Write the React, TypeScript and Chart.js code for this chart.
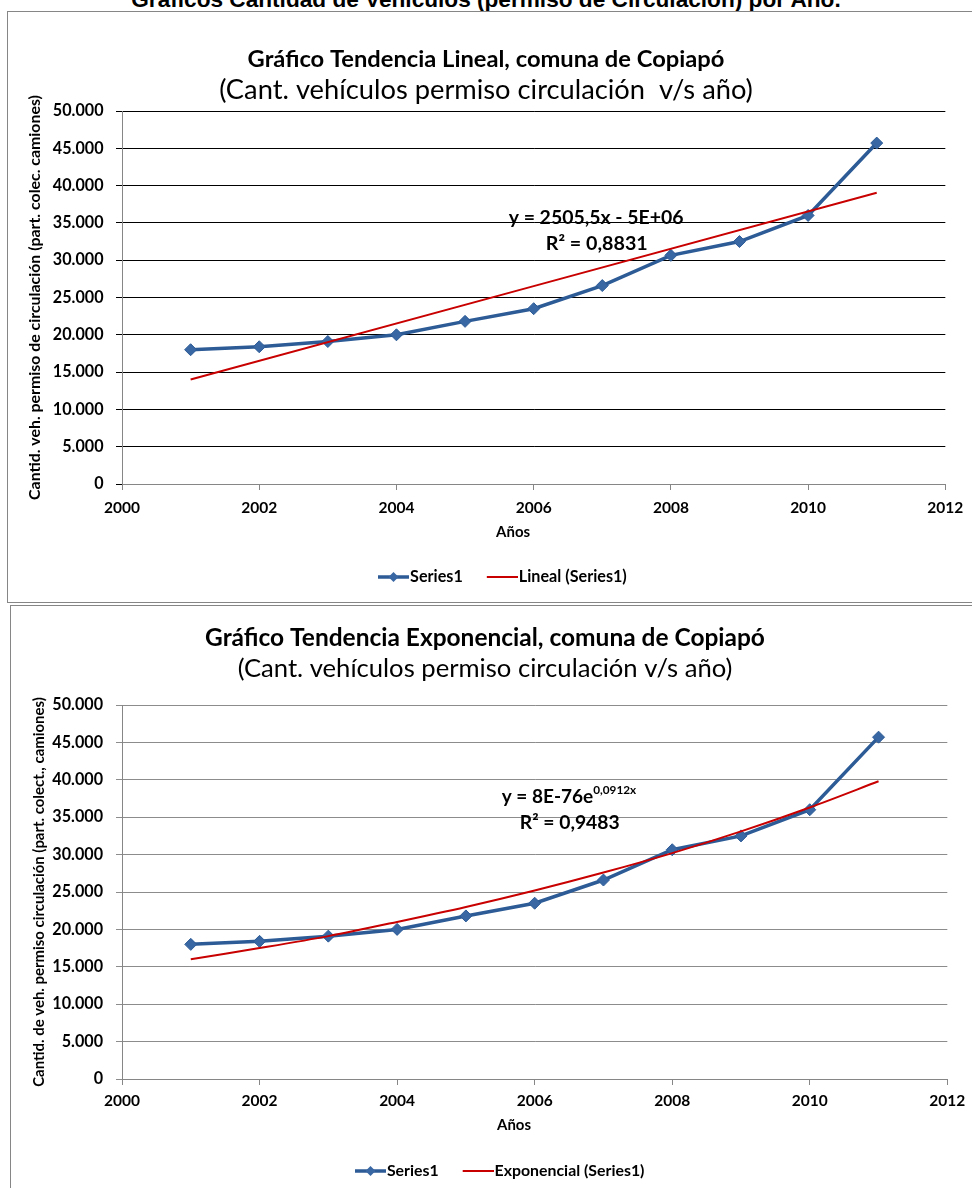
import React, { useEffect, useRef } from 'react';
import { Chart, registerables } from 'chart.js';

Chart.register(...registerables);

// ---------------- data ----------------
const pageTitle = 'Gráficos Cantidad de Vehículos (permiso de Circulación) por Año.';

const years = [2001, 2002, 2003, 2004, 2005, 2006, 2007, 2008, 2009, 2010, 2011];
const series1 = [18000, 18400, 19100, 20000, 21800, 23500, 26600, 30650, 32500, 36000, 45700];

const linearTrendYears = [2001, 2011];
const linearTrendValues = [14000, 39050];

const expTrendYears = [2001, 2002, 2003, 2004, 2005, 2006, 2007, 2008, 2009, 2010, 2011];
const expTrendValues = [16000, 17500, 19100, 21000, 23000, 25200, 27600, 30200, 33100, 36300, 39800];

const xMin = 2000;
const xMax = 2012;
const xStep = 2;
const yMin = 0;
const yMax = 50000;
const yStep = 5000;

const xAxisTitle = 'Años';

const chart1Title = 'Gráfico Tendencia Lineal, comuna de Copiapó';
const chart1Subtitle = '(Cant. vehículos permiso circulación  v/s año)';
const chart1YTitle = 'Cantid. veh. permiso de circulación (part. colec. camiones)';
const chart1Legend = ['Series1', 'Lineal (Series1)'];
const chart1Equation = 'y = 2505,5x - 5E+06';
const chart1R2 = 'R² = 0,8831';

const chart2Title = 'Gráfico Tendencia Exponencial, comuna de Copiapó';
const chart2Subtitle = '(Cant. vehículos permiso circulación v/s año)';
const chart2YTitle = 'Cantid. de veh. permiso circulación (part. colect., camiones)';
const chart2Legend = ['Series1', 'Exponencial (Series1)'];
const chart2EquationBase = 'y = 8E-76e';
const chart2EquationExp = '0,0912x';
const chart2R2 = 'R² = 0,9483';

// ---------------- styles ----------------
const FAMILY = 'Lato';
const BLUE = '#2C5B96';
const BLUE_MARK = '#3867A3';
const RED = '#C80000';
const AXIS = '#868686';
const GRID2 = '#8C8C8C';

let measureCtx: CanvasRenderingContext2D | null = null;
function fitSize(text: string, weight: string, target: number, family = FAMILY) {
  if (!measureCtx) measureCtx = document.createElement('canvas').getContext('2d');
  const ctx = measureCtx as CanvasRenderingContext2D;
  ctx.font = `${weight} 100px ${family}`;
  const w = ctx.measureText(text).width;
  return (100 * target) / w;
}

function fmtThousands(v: number) {
  return v === 0 ? '0' : String(v).replace(/\B(?=(\d{3})+(?!\d))/g, '.');
}

function makeLegendImage(iw: number, kind: 'series' | 'trend') {
  const c = document.createElement('canvas');
  c.width = iw;
  c.height = 14;
  const g = c.getContext('2d') as CanvasRenderingContext2D;
  const x0 = iw - 31;
  const y = 7;
  if (kind === 'series') {
    g.strokeStyle = BLUE;
    g.lineWidth = 3.5;
    g.beginPath();
    g.moveTo(x0, y);
    g.lineTo(iw, y);
    g.stroke();
    const cx = x0 + 15.5;
    g.fillStyle = BLUE_MARK;
    g.beginPath();
    g.moveTo(cx, y - 5);
    g.lineTo(cx + 5, y);
    g.lineTo(cx, y + 5);
    g.lineTo(cx - 5, y);
    g.closePath();
    g.fill();
  } else {
    g.strokeStyle = RED;
    g.lineWidth = 2;
    g.beginPath();
    g.moveTo(x0, y);
    g.lineTo(iw, y);
    g.stroke();
  }
  return c;
}

type LabelRun = {
  text: string;
  w: number;
  x: number;
  y: number;
  align: 'center' | 'left';
  sup?: { text: string; w: number; dy: number };
};

type Spec = {
  w: number;
  h: number;
  padL: number;
  padR: number;
  title: string;
  titleW: number;
  titleCY: number;
  subtitle: string;
  subtitleW: number;
  subtitleCY: number;
  top: number;
  bottom: number;
  yWidth: number;
  yTitle: string;
  yTitleW: number;
  yTitleCX: number;
  yTickW: number;
  yTickPad: number;
  gridColor: string;
  yTickMarkColor: string;
  xTickW: number;
  xTickCY: number;
  xTitleAt: number;
  xTitleCY: number;
  xTitleW: number;
  legendTexts: string[];
  legendFitW: number;
  legendCY: number;
  legendVisLeft: number;
  trendYears: number[];
  trendValues: number[];
  labels: LabelRun[];
};

function buildConfig(s: Spec): any {
  const titleSize = fitSize(s.title, 'bold', s.titleW);
  const titleLH = titleSize * 1.2;
  const subSize = fitSize(s.subtitle, 'normal', s.subtitleW);
  const subLH = subSize * 1.2;
  const titleBottom = s.titleCY + titleLH / 2;

  const yTickSize = fitSize('50.000', 'bold', s.yTickW);
  const xTickSize = fitSize('2000', 'bold', s.xTickW);
  const xTickLH = xTickSize * 1.2;
  const yTitleSize = fitSize(s.yTitle, 'bold', s.yTitleW);
  const yTitleLH = yTitleSize * 1.2;
  const xTitleSize = fitSize(xAxisTitle, 'bold', s.xTitleW);

  const legSize = fitSize(s.legendTexts[1], 'bold', s.legendFitW);
  const W = 40;
  const iw = Math.round(W + legSize - 2);
  const P = 24 - (W / 2 + iw / 2 - 31);
  const legendH = legSize + P + 10;
  const legendTop = s.legendCY - P - legSize / 2;
  const padBottom = s.h - legendTop - legendH;
  const xHeight = legendTop - s.bottom;
  const imgSeries = makeLegendImage(iw, 'series');
  const imgTrend = makeLegendImage(iw, 'trend');

  const tickLen = 6;
  const xPad = s.xTickCY - s.bottom - tickLen - xTickLH / 2;

  const extras = {
    id: 'extras',
    afterLayout(chart: any) {
      const lg = chart.legend;
      if (!lg || !lg.lineWidths) return;
      const x0 = (lg.left + P + lg.right - lg.lineWidths[0]) / 2;
      const visLeft = x0 + W / 2 + iw / 2 - 31;
      const shift = s.legendVisLeft - visLeft;
      lg.left += shift;
      lg.right += shift;
    },
    afterDraw(chart: any) {
      const ctx = chart.ctx as CanvasRenderingContext2D;
      const xs = chart.scales.x;
      const ys = chart.scales.y;
      ctx.save();
      ctx.fillStyle = '#000';
      ctx.textBaseline = 'middle';
      ctx.font = `bold ${xTitleSize}px ${FAMILY}`;
      ctx.textAlign = 'center';
      ctx.fillText(xAxisTitle, xs.getPixelForValue(s.xTitleAt), s.xTitleCY);
      for (const lab of s.labels) {
        const size = fitSize(lab.text, 'bold', lab.w);
        ctx.font = `bold ${size}px ${FAMILY}`;
        ctx.textAlign = lab.align;
        const px = xs.getPixelForValue(lab.x);
        const py = ys.getPixelForValue(lab.y);
        ctx.fillText(lab.text, px, py);
        if (lab.sup) {
          const tw = ctx.measureText(lab.text).width;
          const ss = fitSize(lab.sup.text, 'bold', lab.sup.w);
          ctx.font = `bold ${ss}px ${FAMILY}`;
          ctx.textAlign = 'left';
          const sx = lab.align === 'center' ? px + tw / 2 : px + tw;
          ctx.fillText(lab.sup.text, sx, py + lab.sup.dy);
        }
      }
      ctx.restore();
    },
  };

  return {
    type: 'line',
    data: {
      datasets: [
        {
          label: s.legendTexts[0],
          data: years.map((x, i) => ({ x, y: series1[i] })),
          borderColor: BLUE,
          borderWidth: 3.5,
          pointStyle: 'rectRot',
          pointRadius: 6,
          pointBackgroundColor: BLUE_MARK,
          pointBorderColor: BLUE,
          pointBorderWidth: 1,
          tension: 0,
          order: 1,
        },
        {
          label: s.legendTexts[1],
          data: s.trendYears.map((x, i) => ({ x, y: s.trendValues[i] })),
          borderColor: RED,
          borderWidth: 2,
          pointRadius: 0,
          tension: 0.3,
          order: 0,
        },
      ],
    },
    options: {
      animation: false,
      responsive: false,
      maintainAspectRatio: false,
      devicePixelRatio: 1,
      events: [],
      layout: { padding: { left: s.padL, right: s.padR, top: 0, bottom: padBottom } },
      scales: {
        x: {
          type: 'linear',
          min: xMin,
          max: xMax,
          afterFit: (sc: any) => {
            sc.height = xHeight;
          },
          ticks: {
            stepSize: xStep,
            callback: (v: any) => String(v),
            font: { family: FAMILY, size: xTickSize, weight: 'bold' },
            color: '#000',
            padding: xPad,
            maxRotation: 0,
            autoSkip: false,
          },
          grid: {
            display: true,
            drawOnChartArea: false,
            drawTicks: true,
            tickLength: tickLen,
            tickColor: AXIS,
            color: AXIS,
          },
          border: { display: true, color: AXIS, width: 1 },
          title: { display: false },
        },
        y: {
          type: 'linear',
          min: yMin,
          max: yMax,
          afterFit: (sc: any) => {
            sc.width = s.yWidth;
          },
          ticks: {
            stepSize: yStep,
            callback: (v: any) => fmtThousands(Number(v)),
            font: { family: FAMILY, size: yTickSize, weight: 'bold' },
            color: '#000',
            padding: s.yTickPad,
          },
          grid: {
            display: true,
            drawOnChartArea: true,
            drawTicks: true,
            tickLength: tickLen,
            tickColor: s.yTickMarkColor,
            color: (c: any) => (c.tick && c.tick.value === 0 ? AXIS : s.gridColor),
            lineWidth: 1,
          },
          border: { display: true, color: AXIS, width: 1 },
          title: {
            display: true,
            text: s.yTitle,
            color: '#000',
            font: { family: FAMILY, size: yTitleSize, weight: 'bold' },
            padding: { top: s.yTitleCX - s.padL - yTitleLH / 2, bottom: 0 },
          },
        },
      },
      plugins: {
        title: {
          display: true,
          text: s.title,
          color: '#000',
          font: { family: FAMILY, size: titleSize, weight: 'bold' },
          padding: { top: s.titleCY - titleLH / 2, bottom: 0 },
        },
        subtitle: {
          display: true,
          text: s.subtitle,
          color: '#000',
          font: { family: FAMILY, size: subSize, weight: 'normal' },
          padding: {
            top: s.subtitleCY - subLH / 2 - titleBottom,
            bottom: s.top - s.subtitleCY - subLH / 2,
          },
        },
        legend: {
          display: true,
          position: 'bottom',
          labels: {
            usePointStyle: true,
            pointStyleWidth: W,
            padding: P,
            color: '#000',
            font: { family: FAMILY, size: legSize, weight: 'bold' },
            generateLabels: () => [
              {
                text: s.legendTexts[0],
                pointStyle: imgSeries,
                fillStyle: 'rgba(0,0,0,0)',
                strokeStyle: 'rgba(0,0,0,0)',
                lineWidth: 0,
                hidden: false,
                fontColor: '#000',
                datasetIndex: 0,
              },
              {
                text: s.legendTexts[1],
                pointStyle: imgTrend,
                fillStyle: 'rgba(0,0,0,0)',
                strokeStyle: 'rgba(0,0,0,0)',
                lineWidth: 0,
                hidden: false,
                fontColor: '#000',
                datasetIndex: 1,
              },
            ],
          },
        },
        tooltip: { enabled: false },
      },
    },
    plugins: [extras],
  };
}

function TrendChart({ spec }: { spec: Spec }) {
  const ref = useRef<HTMLCanvasElement | null>(null);
  useEffect(() => {
    const canvas = ref.current;
    if (!canvas) return;
    const chart = new Chart(canvas, buildConfig(spec));
    return () => chart.destroy();
  }, [spec]);
  return <canvas ref={ref} width={spec.w} height={spec.h} style={{ display: 'block' }} />;
}

const spec1: Spec = {
  w: 964,
  h: 590,
  padL: 16,
  padR: 24,
  title: chart1Title,
  titleW: 477,
  titleCY: 47,
  subtitle: chart1Subtitle,
  subtitleW: 534,
  subtitleCY: 78,
  top: 99,
  bottom: 472,
  yWidth: 98,
  yTitle: chart1YTitle,
  yTitleW: 405,
  yTitleCX: 27,
  yTickW: 50.7,
  yTickPad: 12.5,
  gridColor: '#000',
  yTickMarkColor: '#000',
  xTickW: 36,
  xTickCY: 496,
  xTitleAt: 2005.7,
  xTitleCY: 520,
  xTitleW: 34,
  legendTexts: chart1Legend,
  legendFitW: 108,
  legendCY: 565,
  legendVisLeft: 370,
  trendYears: linearTrendYears,
  trendValues: linearTrendValues,
  labels: [
    { text: chart1Equation, w: 175, x: 2006.91, y: 35660, align: 'center' },
    { text: chart1R2, w: 102, x: 2006.92, y: 32270, align: 'center' },
  ],
};

const spec2: Spec = {
  w: 961,
  h: 582,
  padL: 11,
  padR: 24,
  title: chart2Title,
  titleW: 560,
  titleCY: 32,
  subtitle: chart2Subtitle,
  subtitleW: 495,
  subtitleCY: 63,
  top: 99,
  bottom: 473,
  yWidth: 100,
  yTitle: chart2YTitle,
  yTitleW: 390,
  yTitleCX: 28,
  yTickW: 50.7,
  yTickPad: 13,
  gridColor: GRID2,
  yTickMarkColor: GRID2,
  xTickW: 36,
  xTickCY: 495,
  xTitleAt: 2005.7,
  xTitleCY: 519,
  xTitleW: 34,
  legendTexts: chart2Legend,
  legendFitW: 150,
  legendCY: 565,
  legendVisLeft: 344,
  trendYears: expTrendYears,
  trendValues: expTrendValues,
  labels: [
    {
      text: chart2EquationBase,
      w: 91.6,
      x: 2005.52,
      y: 37700,
      align: 'left',
      sup: { text: chart2EquationExp, w: 43, dy: -7 },
    },
    { text: chart2R2, w: 100, x: 2006.51, y: 34225, align: 'center' },
  ],
};

export default function App() {
  const ptFamily = '"Liberation Sans"';
  const ptSize = fitSize(pageTitle, 'bold', 711, ptFamily);
  const ptTop = 8 - 0.8465 * ptSize;
  return (
    <div
      style={{
        position: 'absolute',
        left: 0,
        top: 0,
        width: 972,
        height: 1188,
        overflow: 'hidden',
        background: '#fff',
      }}
    >
      <div
        style={{
          position: 'absolute',
          left: 0,
          top: ptTop,
          width: 972,
          textAlign: 'center',
          fontFamily: ptFamily,
          fontWeight: 'bold',
          fontSize: ptSize,
          lineHeight: `${ptSize}px`,
          whiteSpace: 'nowrap',
          color: '#000',
        }}
      >
        {pageTitle}
      </div>
      <div
        style={{
          position: 'absolute',
          left: 7,
          top: 11,
          width: 964,
          height: 590,
          border: `1px solid ${AXIS}`,
        }}
      >
        <TrendChart spec={spec1} />
      </div>
      <div
        style={{
          position: 'absolute',
          left: 10,
          top: 605,
          width: 961,
          height: 600,
          border: `1px solid ${AXIS}`,
        }}
      >
        <TrendChart spec={spec2} />
      </div>
    </div>
  );
}
